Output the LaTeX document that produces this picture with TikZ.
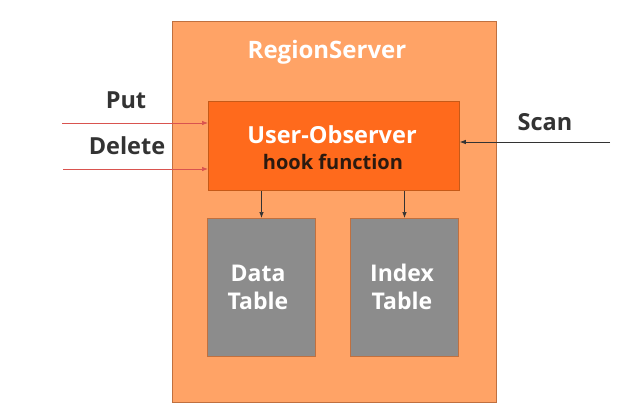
\documentclass[tikz,border=0pt]{standalone}
\usepackage{fontspec}
\setmainfont{Open Sans}
\usetikzlibrary{arrows.meta}
\definecolor{serverfill}{HTML}{FFA366}
\definecolor{serverline}{HTML}{C0703F}
\definecolor{hookfill}{HTML}{FF6A1C}
\definecolor{hookline}{HTML}{C65A18}
\definecolor{tablefill}{HTML}{8C8C8C}
\definecolor{labeltext}{HTML}{333333}
\definecolor{hooktext}{HTML}{2B1A10}
\definecolor{inarrow}{HTML}{D9534F}
\tikzset{
    box/.style={rectangle, draw, anchor=north west, inner sep=0pt},
    title/.style={text=white, font=\bfseries, align=center},
    opname/.style={text=labeltext, font=\fontsize{23.5}{27}\selectfont\bfseries},
    flow/.style={-{Latex[length=6pt,width=4.5pt]}, line width=0.7pt}
}
\begin{document}
\begin{tikzpicture}[x=1pt,y=-1pt]
    \useasboundingbox (0,0) rectangle (640,410);
    % region server and its parts
    \node(server) [box, fill=serverfill, draw=serverline, line width=1pt, minimum width=324pt, minimum height=381pt] at (172,21) {};
    \node(servername) [title, font=\fontsize{24}{28}\selectfont\bfseries] at (327,52) {RegionServer};
    \node(hook) [box, fill=hookfill, draw=hookline, line width=0.8pt, minimum width=251pt, minimum height=89pt] at (208,101) {};
    \node(hookname) [title, font=\fontsize{23.5}{27}\selectfont\bfseries] at (332,135) {User-Observer};
    \node(hookfn) [title, text=hooktext, font=\fontsize{20}{24}\selectfont\bfseries] at (333,162) {hook function};
    \node(data) [box, fill=tablefill, draw=serverline, line width=1pt, minimum width=108pt, minimum height=138pt] at (207,218) {};
    \node(datalabel) [title, font=\fontsize{23}{28}\selectfont\bfseries] at (258,287) {Data\\Table};
    \node(index) [box, fill=tablefill, draw=serverline, line width=1pt, minimum width=108pt, minimum height=138pt] at (350,218) {};
    \node(indexlabel) [title, font=\fontsize{23}{28}\selectfont\bfseries] at (402,287) {Index\\Table};
    % requests
    \coordinate(putstart) at (62,123);
    \coordinate(delstart) at (63,169);
    \coordinate(scanstart) at (610,142);
    \node(put) [opname] at (126,100) {Put};
    \node(delete) [opname] at (127,146) {Delete};
    \node(scan) [opname] at (545,122) {Scan};
    \draw[flow, draw=inarrow] (putstart) -- (putstart -| hook.west);
    \draw[flow, draw=inarrow] (delstart) -- (delstart -| hook.west);
    \draw[flow, draw=labeltext] (scanstart) -- (scanstart -| hook.east);
    \draw[flow, draw=black!80] (hook.south -| data.center) -- (data.north);
    \draw[flow, draw=black!80] (hook.south -| index.center) -- (index.north);
\end{tikzpicture}
\end{document}
